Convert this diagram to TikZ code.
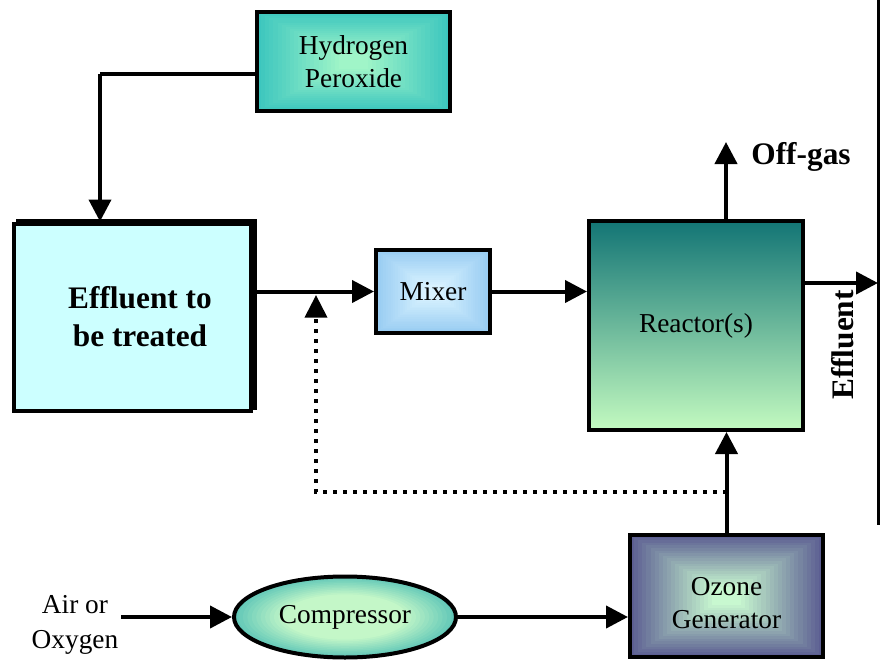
\documentclass[tikz,border=0pt]{standalone}
\usepackage{fontspec}
\setmainfont{Liberation Serif}
\usetikzlibrary{arrows.meta,shapes.geometric}

\definecolor{hpout}{HTML}{3CC6BE}
\definecolor{hpin}{HTML}{A0F5C8}
\definecolor{effc}{HTML}{CCFFFF}
\definecolor{mixout}{HTML}{98CCF2}
\definecolor{mixin}{HTML}{D8F2FF}
\definecolor{reacttop}{HTML}{137575}
\definecolor{reactbot}{HTML}{C3FAC0}
\definecolor{ozout}{HTML}{5C5E92}
\definecolor{ozin}{HTML}{C8F8D0}
\definecolor{compin}{HTML}{C4F7C8}
\definecolor{compout}{HTML}{62C8B8}

\tikzset{
  flow/.style={line width=3pt, -{Triangle[length=16.5pt,width=16.5pt]}},
  plainline/.style={line width=3pt},
  boxlbl/.style={font=\fontsize{20.5}{25}\selectfont, align=center},
  boldlbl/.style={font=\fontsize{23.5}{28.5}\selectfont\bfseries, align=center},
  frame/.style={draw=black, line width=3pt, rectangle, inner sep=0pt},
  dotline/.style={line width=3pt, dash pattern=on 3pt off 4.5pt, -{Triangle[length=17pt,width=16.5pt]}},
}

\newcommand\rectgrad[6]{%
  \foreach \k in {0,...,20}{%
    \pgfmathsetmacro\gf{1-0.85*\k/20}%
    \pgfmathtruncatemacro\gp{5*\k}%
    \fill[#6!\gp!#5] ({#1-#3/2*\gf},{#2-#4/2*\gf}) rectangle ({#1+#3/2*\gf},{#2+#4/2*\gf});
  }}

\newcommand\ellgrad[6]{%
  \foreach \k in {0,...,20}{%
    \pgfmathsetmacro\gf{1-0.8*\k/20}%
    \pgfmathtruncatemacro\gp{min(100,9*\k)}%
    \fill[#6!\gp!#5] (#1,#2) ellipse [x radius={#3*\gf}, y radius={#4*\gf}];
  }}

\begin{document}
\begin{tikzpicture}[x=0.75pt,y=-0.75pt]
\useasboundingbox (0,0) rectangle (881,660);
\fill[white] (0,0) rectangle (881,660);

% Hydrogen Peroxide
\rectgrad{353.5}{61.5}{193}{99}{hpout}{hpin}
\node[frame, minimum width=144.75pt, minimum height=74.25pt, boxlbl] (h2o2) at (353.5,61.5) {Hydrogen\\Peroxide};

% Effluent to be treated (with shadow)
\draw[line width=3pt, fill=effc] (18,220.5) rectangle (255,407.5);
\node[frame, fill=effc, minimum width=177.75pt, minimum height=140.25pt, boldlbl] (eff) at (132,317) {\hspace*{12pt}Effluent to\\\hspace*{12pt}be treated};

% Mixer
\rectgrad{433}{291.5}{114}{83}{mixout}{mixin}
\node[frame, minimum width=85.5pt, minimum height=62.25pt, boxlbl] (mixer) at (433,291.5) {Mixer};

% Reactor
\node[frame, top color=reacttop, bottom color=reactbot, minimum width=160.5pt, minimum height=156.75pt, boxlbl] (reactor) at (696,325.5) {Reactor(s)};

% Ozone generator
\rectgrad{726.5}{596}{193}{122}{ozout}{ozin}
\node[frame, minimum width=144.75pt, minimum height=91.5pt] (ozone) at (726.5,596) {};
\node[boxlbl] (ozlbl) at (726.5,603) {Ozone\\Generator};

% Compressor
\ellgrad{345}{617}{111}{40.5}{compout}{compin}
\node[ellipse, draw=black, line width=3pt, minimum width=166.5pt, minimum height=60.75pt, inner sep=0pt, boxlbl] (comp) at (345,617) {Compressor};

% Air or Oxygen
\node[font=\fontsize{20.5}{26}\selectfont, align=center, inner sep=2pt] (air) at (75,625) {Air or\\Oxygen};

% Labels
\node[boldlbl] (offgas) at (801,157) {Off-gas};
\node[boldlbl, rotate=90] (efflbl) at (843,345) {Effluent};

% Coordinates
\coordinate (hc) at (100,74);
\coordinate (og) at (726,142);
\coordinate (eo) at (878,283);
\coordinate (dl) at (316,492);
\coordinate (jn) at (316,295);

% Connectors
\draw[plainline] (hc -| h2o2.west) -- (hc);
\draw[flow] (hc) -- (hc |- eff.north);
\draw[flow] (mixer.west -| eff.east) -- (mixer.west);
\draw[flow] (mixer.east) -- (mixer.east -| reactor.west);
\draw[flow] (og |- reactor.north) -- (og);
\draw[flow] (eo -| reactor.east) -- (eo);
\draw[flow] (ozone.north) -- (ozone.north |- reactor.south);
\draw[dotline] (dl -| ozone.north) -- (dl) -- (jn);
\draw[flow] (comp.west -| air.east) -- (comp.west);
\draw[flow] (comp.east) -- (comp.east -| ozone.west);

% right border line
\draw[line width=2.25pt] (878,0) -- (878,525);
\end{tikzpicture}
\end{document}
